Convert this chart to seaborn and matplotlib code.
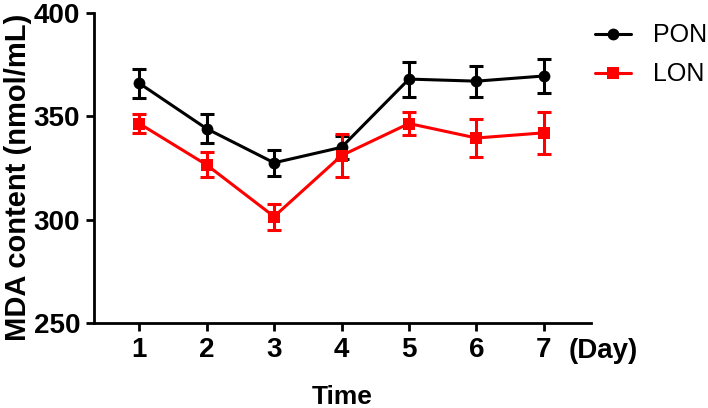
import numpy as np
import pandas as pd
import matplotlib
matplotlib.use("Agg")
import matplotlib.pyplot as plt
import matplotlib.transforms as mtransforms
import seaborn as sns

# values (mean +/- error)
days = [1, 2, 3, 4, 5, 6, 7]
pon_mean = [366, 344, 327.5, 335, 368, 367, 369.5]
pon_err = [7, 7, 6.3, 5.5, 8.5, 7.5, 8.3]
lon_mean = [346.5, 326.5, 301.5, 331, 346.5, 339.5, 342]
lon_err = [4.8, 6, 6.3, 10.3, 5.4, 9.3, 10]

df = pd.DataFrame({
    "Day": days * 2,
    "MDA": pon_mean + lon_mean,
    "err": pon_err + lon_err,
    "Group": ["PON"] * 7 + ["LON"] * 7,
})

sns.set_theme(style="ticks")
plt.rcParams["font.family"] = ["Liberation Sans", "DejaVu Sans"]
plt.rcParams.update({"text.color": "black", "axes.labelcolor": "black",
                     "xtick.color": "black", "ytick.color": "black",
                     "axes.edgecolor": "black"})

colors = {"PON": "black", "LON": "#ff0000"}
markers = {"PON": "o", "LON": "s"}

fig = plt.figure(figsize=(7.08, 4.08), dpi=100)
ax = fig.add_axes([0.1328, 0.2083, 0.702, 0.760])

for g in ["PON", "LON"]:
    sub = df[df["Group"] == g]
    ax.errorbar(sub["Day"], sub["MDA"], yerr=sub["err"], fmt="none",
                ecolor=colors[g], elinewidth=2.2, capsize=4.7, capthick=2.2, zorder=2)

sns.lineplot(data=df, x="Day", y="MDA", hue="Group", style="Group",
             palette=colors, markers=markers, dashes=False, linewidth=2.2,
             markersize=8.5, markeredgewidth=0, ax=ax, zorder=3)

ax.set_xlim(0.33, 7.7)
ax.set_ylim(250, 400)
ax.set_xticks(days)
ax.set_yticks([250, 300, 350, 400])
sns.despine(ax=ax)
for s in ["left", "bottom"]:
    ax.spines[s].set_linewidth(2)
ax.tick_params(width=2, length=6, labelsize=20, pad=4)
for lbl in ax.get_xticklabels() + ax.get_yticklabels():
    lbl.set_fontweight("bold")

ax.set_xlabel("Time", fontsize=19, fontweight="bold", labelpad=16)
ax.set_ylabel("MDA content (nmol/mL)", fontsize=21, fontweight="bold", labelpad=2)
ax.yaxis.set_label_coords(-0.125, 0.47)

trans = mtransforms.blended_transform_factory(ax.transData, ax.transAxes)
ax.text(7.37, -0.09, "(Day)", transform=trans, fontsize=20, fontweight="bold",
        ha="left", va="center")

handles, labels = ax.get_legend_handles_labels()
ax.get_legend().remove()
fig.legend(handles, labels, loc="upper left", bbox_to_anchor=(0.840, 0.943),
           frameon=False, fontsize=18, handlelength=1.47, handletextpad=0.85,
           labelspacing=0.6, borderpad=0, borderaxespad=0)

fig.savefig("out.png", dpi=100)
